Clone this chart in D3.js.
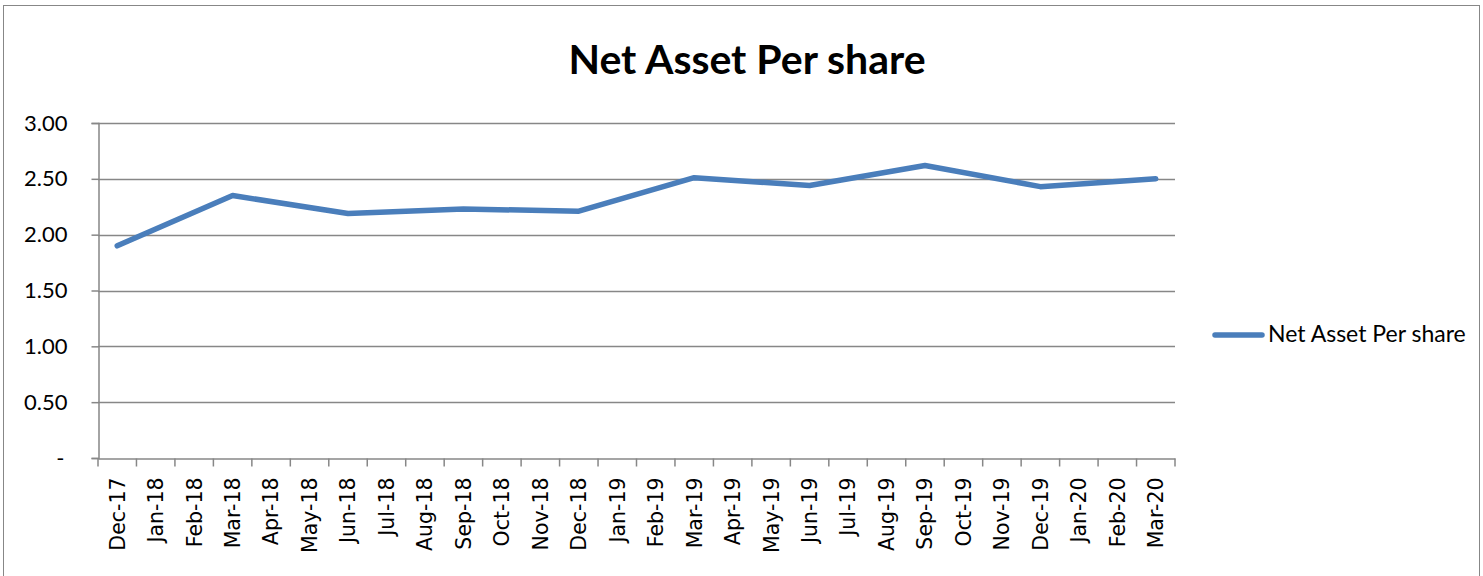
<!DOCTYPE html>
<html><head><meta charset="utf-8">
<script src="https://cdn.jsdelivr.net/npm/d3@7"></script>
<style>html,body{margin:0;padding:0;background:#fff;}</style>
</head><body><svg id="c" width="1483" height="576"></svg>
<script>
const months = ["Dec-17","Jan-18","Feb-18","Mar-18","Apr-18","May-18","Jun-18","Jul-18","Aug-18","Sep-18","Oct-18","Nov-18","Dec-18","Jan-19","Feb-19","Mar-19","Apr-19","May-19","Jun-19","Jul-19","Aug-19","Sep-19","Oct-19","Nov-19","Dec-19","Jan-20","Feb-20","Mar-20"];
// Reported quarterly values; months without a value are null (line connects reported points)
const navValues = [1.90,null,null,2.35,null,null,2.19,null,null,2.23,null,null,2.21,null,null,2.51,null,null,2.44,null,null,2.62,null,null,2.43,null,null,2.50];
const yTicks = [0,0.5,1,1.5,2,2.5,3];
const seriesName = "Net Asset Per share";
const titleText = "Net Asset Per share";

const svg = d3.select("#c");
const L = 98, R = 1175, T = 123, B = 458;
const grey = "#878787";
const lblFont = "Lato, 'Open Sans', sans-serif";

svg.append("rect").attr("x",3.5).attr("y",5.5).attr("width",1476).attr("height",600)
  .attr("fill","none").attr("stroke",grey).attr("stroke-width",1);

const x = d3.scaleBand().domain(months).range([L,R]).padding(0);
const y = d3.scaleLinear().domain([0,3]).range([B,T]);

// gridlines
svg.append("g").selectAll("line").data(yTicks.filter(d=>d>0)).join("line")
  .attr("x1",L).attr("x2",R).attr("y1",d=>Math.round(y(d))+0.5).attr("y2",d=>Math.round(y(d))+0.5)
  .attr("stroke",grey).attr("stroke-width",1.5);

// y axis
const yAx = svg.append("g").attr("transform",`translate(${L+0.5},0)`)
  .call(d3.axisLeft(y).tickValues(yTicks).tickSize(7).tickPadding(24)
    .tickFormat(d=> d===0 ? "-" : d3.format(".2f")(d)));
yAx.selectAll("path,line").attr("stroke",grey).attr("stroke-width",1.5);
yAx.selectAll("text").attr("font-family",lblFont).attr("font-size",22).attr("fill","#000");
yAx.selectAll(".tick").filter(d=>d===0).select("text").attr("x",-34);

// x axis
const xAx = svg.append("g").attr("transform",`translate(0,${B+0.5})`)
  .call(d3.axisBottom(x).tickSize(0).tickFormat(d=>d));
xAx.select("path").attr("stroke",grey).attr("stroke-width",1.5);
const edges = months.map(m=>x(m)).concat([R]);
xAx.append("g").selectAll("line").data(edges).join("line")
  .attr("x1",d=>d).attr("x2",d=>d).attr("y1",0).attr("y2",8).attr("stroke",grey).attr("stroke-width",1.5);
xAx.selectAll(".tick text")
  .attr("font-family","'DejaVu Sans', sans-serif").attr("font-size",20.5).attr("fill","#000")
  .attr("text-anchor","end").attr("transform","rotate(-90)")
  .attr("x",-19).attr("y",0).attr("dy","0.36em");

// line
const pts = months.map((m,i)=>({m, v:navValues[i]})).filter(d=>d.v!==null);
const line = d3.line().x(d=>x(d.m)+x.bandwidth()/2).y(d=>y(d.v));
svg.append("path").datum(pts).attr("d",line).attr("fill","none")
  .attr("stroke","#4a7ebb").attr("stroke-width",5.5).attr("stroke-linecap","round").attr("stroke-linejoin","round");

// title
svg.append("text").attr("x",747).attr("y",74).attr("text-anchor","middle")
  .attr("font-family",lblFont).attr("font-weight","bold").attr("font-size",41).attr("fill","#000").text(titleText);

// legend
svg.append("line").attr("x1",1215).attr("x2",1262).attr("y1",335).attr("y2",335)
  .attr("stroke","#4a7ebb").attr("stroke-width",5.5).attr("stroke-linecap","round");
svg.append("text").attr("x",1268).attr("y",342).attr("font-family",lblFont).attr("font-size",23)
  .attr("fill","#000").text(seriesName);
</script></body></html>
